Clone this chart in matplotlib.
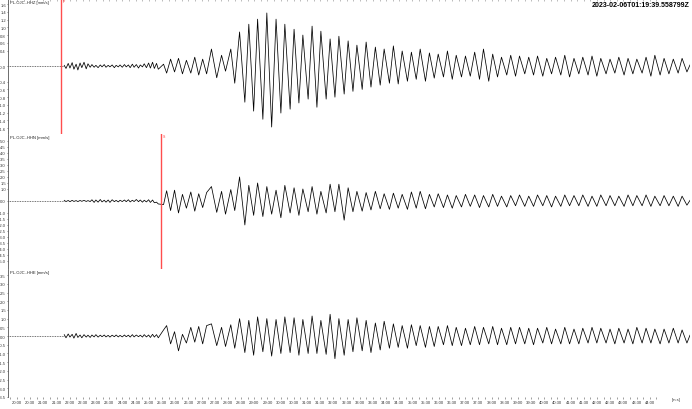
import matplotlib
matplotlib.use("Agg")
import matplotlib.pyplot as plt
import numpy as np
from matplotlib.ticker import FixedLocator, FuncFormatter

plt.rcParams["font.family"] = ["Liberation Sans", "DejaVu Sans"]

# time axis: seconds after the start time 01:19:39.558799
start_label = "2023-02-06T01:19:39.558799Z"
start_sec = 19 * 60 + 39.558799          # seconds into the hour
channels = ["PL.OJC..HHZ [mm/s]", "PL.OJC..HHN [mm/s]", "PL.OJC..HHE [mm/s]"]

# quiet part before the arrivals (same sampling for the three channels)
t_noise = [128, 132, 137, 141, 146, 150, 155, 159, 164, 168, 173, 178, 182, 187,
           191, 196, 200, 205, 210, 214, 219, 223, 228, 232, 237, 242, 246, 251,
           255, 260, 265, 269, 274, 278, 283, 287, 292, 297, 301, 306, 310, 315,
           320, 324, 329, 333, 338, 342]
hhz_noise = [0.02, -0.06, 0.07, -0.05, 0.09, -0.08, 0.05, -0.10, 0.08, -0.04, 0.10, -0.07, 0.06, -0.03,
             0.04, -0.03, 0.02, -0.04, 0.03, -0.02, 0.04, -0.03, 0.02, -0.02, 0.03, -0.04, 0.02, -0.02,
             0.03, -0.03, 0.04, -0.02, 0.03, -0.04, 0.05, -0.03, 0.04, -0.05, 0.03, -0.02, 0.06, -0.04,
             0.08, -0.05, 0.10, -0.06, 0.07, -0.08]
hhn_noise = [0.05, -0.05, 0.04, -0.06, 0.05, -0.04, 0.03, -0.05, 0.04, -0.03, 0.05, -0.04, 0.03, -0.05,
             0.10, -0.12, 0.08, -0.10, 0.12, -0.08, 0.06, -0.10, 0.08, -0.12, 0.10, -0.06, 0.05, -0.08,
             0.06, -0.05, 0.08, -0.06, 0.10, -0.08, 0.06, -0.05, 0.12, -0.06, 0.08, -0.10, 0.06, -0.08,
             0.10, -0.12, 0.08, -0.15, -0.10, -0.25]
hhe_noise = [0.08, -0.10, 0.12, -0.06, 0.10, -0.12, 0.15, -0.08, 0.06, -0.10, 0.08, -0.06, 0.05, -0.08,
             0.06, -0.05, 0.08, -0.06, 0.05, -0.04, 0.06, -0.05, 0.04, -0.06, 0.05, -0.04, 0.06, -0.05,
             0.04, -0.05, 0.06, -0.04, 0.05, -0.06, 0.08, -0.05, 0.06, -0.04, 0.05, -0.06, 0.08, -0.05,
             0.06, -0.08, 0.10, -0.06, 0.08, -0.10]

# peaks and troughs after the arrivals
t_osc = [354, 361, 370, 379, 388, 397, 406, 416, 425, 434, 443, 452,
         463, 475, 486, 495, 507, 516, 527, 539, 548, 559,
         568, 580, 589, 600, 610, 621, 630, 642, 651, 662,
         671, 683, 692, 703, 712, 724, 733, 744, 753, 765,
         774, 785, 794, 806, 815, 826, 836, 847, 856, 868,
         877, 888, 897, 909, 918, 929, 938, 950, 959, 970,
         979, 991, 1000, 1011, 1020, 1032, 1041, 1052, 1062, 1073,
         1082, 1094, 1103, 1114, 1123, 1135, 1144, 1155, 1164, 1176,
         1185, 1196, 1205, 1217, 1226, 1237, 1246, 1258, 1267, 1278,
         1288, 1299, 1308, 1320, 1329, 1340, 1349, 1361, 1370, 1381,
         1390, 1402, 1411, 1422, 1431, 1443, 1452, 1463, 1472, 1484,
         1493, 1504, 1514, 1525, 1534, 1545, 1552]
hhz_osc = [0.05, -0.18, 0.18, -0.15, 0.20, -0.20, 0.15, -0.18, 0.23, -0.23, 0.18, -0.20,
           0.44, -0.30, 0.28, -0.13, 0.44, -0.44, 0.88, -0.93, 1.08, -1.16,
           1.21, -1.37, 1.37, -1.57, 1.21, -1.21, 1.08, -1.11, 0.95, -0.95,
           0.80, -0.85, 1.03, -1.06, 0.90, -0.85, 0.70, -0.80, 0.77, -0.72,
           0.65, -0.65, 0.54, -0.60, 0.62, -0.54, 0.49, -0.49, 0.44, -0.44,
           0.52, -0.46, 0.39, -0.39, 0.36, -0.34, 0.44, -0.39, 0.34, -0.31,
           0.31, -0.28, 0.39, -0.34, 0.28, -0.28, 0.26, -0.26, 0.36, -0.34,
           0.44, -0.39, 0.31, -0.28, 0.23, -0.23, 0.28, -0.26, 0.26, -0.20,
           0.23, -0.23, 0.26, -0.26, 0.20, -0.20, 0.23, -0.23, 0.28, -0.28,
           0.20, -0.20, 0.23, -0.23, 0.26, -0.26, 0.20, -0.20, 0.18, -0.18,
           0.23, -0.23, 0.20, -0.20, 0.18, -0.18, 0.23, -0.26, 0.28, -0.23,
           0.20, -0.20, 0.18, -0.18, 0.20, -0.15, 0.03]
hhn_osc = [-0.30, 0.85, -0.80, 0.90, -1.00, 0.55, -0.60, 0.75, -0.85, 0.60, -0.55, 0.70,
           1.20, -0.95, 0.80, -1.10, 0.95, -0.80, 2.00, -2.00, 1.30, -1.20,
           1.50, -1.30, 1.20, -1.10, 0.90, -1.40, 1.30, -1.00, 1.10, -1.20,
           1.00, -0.90, 1.20, -1.10, 0.80, -1.00, 1.40, -0.90, 1.40, -1.60,
           1.10, -0.90, 0.80, -0.85, 0.70, -0.75, 0.80, -0.65, 0.60, -0.70,
           0.65, -0.60, 0.55, -0.70, 0.75, -0.60, 0.80, -0.65, 0.55, -0.50,
           0.60, -0.55, 0.50, -0.60, 0.45, -0.50, 0.55, -0.45, 0.50, -0.55,
           0.45, -0.50, 0.55, -0.45, 0.40, -0.50, 0.45, -0.40, 0.50, -0.45,
           0.40, -0.45, 0.50, -0.40, 0.45, -0.50, 0.40, -0.45, 0.50, -0.40,
           0.45, -0.40, 0.50, -0.45, 0.40, -0.45, 0.50, -0.40, 0.45, -0.40,
           0.40, -0.45, 0.50, -0.40, 0.45, -0.40, 0.50, -0.45, 0.40, -0.40,
           0.45, -0.40, 0.40, -0.45, 0.40, -0.35, 0.05]
hhe_osc = [0.35, 0.60, -0.45, 0.25, -0.85, 0.10, -0.40, 0.50, -0.35, 0.55, -0.45, 0.60,
           0.70, -0.55, 0.50, -0.60, 0.65, -0.70, 1.00, -0.95, 0.90, -1.10,
           1.10, -0.90, 1.00, -1.15, 0.95, -1.00, 1.10, -0.95, 1.05, -1.10,
           0.95, -1.00, 1.15, -1.00, 0.90, -1.05, 1.25, -1.30, 1.00, -1.10,
           0.95, -0.90, 1.05, -0.85, 0.90, -0.95, 0.75, -0.80, 0.85, -0.70,
           0.70, -0.65, 0.60, -0.70, 0.65, -0.55, 0.60, -0.65, 0.55, -0.60,
           0.55, -0.50, 0.60, -0.55, 0.50, -0.55, 0.45, -0.50, 0.55, -0.50,
           0.50, -0.45, 0.55, -0.50, 0.45, -0.50, 0.50, -0.45, 0.50, -0.45,
           0.45, -0.50, 0.45, -0.40, 0.50, -0.45, 0.40, -0.45, 0.50, -0.45,
           0.40, -0.45, 0.45, -0.40, 0.50, -0.40, 0.45, -0.40, 0.40, -0.45,
           0.45, -0.40, 0.40, -0.45, 0.50, -0.40, 0.45, -0.40, 0.40, -0.45,
           0.40, -0.40, 0.45, -0.40, 0.35, -0.40, 0.05]

traces = [hhz_noise + hhz_osc, hhn_noise + hhn_osc, hhe_noise + hhe_osc]
t_all = t_noise + t_osc
for tr in traces:
    assert len(tr) == len(t_all)

# picks (panel index, time, name)
picks = [(0, 121, "P"), (1, 349, "S")]

ylims = [(-1.75, 1.73), (-5.67, 5.58), (-3.5, 3.85)]
yticks = [[v for v in np.round(np.arange(-1.6, 1.61, 0.2), 1) if abs(v) != 0.2],
          [v for v in np.round(np.arange(-5.0, 5.01, 0.5), 1) if abs(v) != 0.5],
          list(np.round(np.arange(-3.5, 3.51, 0.5), 1))]

W, H = 692, 410
fig = plt.figure(figsize=(W / 100, H / 100), dpi=100)
left = 8 / W
width = (690 - 8) / W
boxes = [(0, 135), (135, 270), (270, 398)]
axes = []
for top, bot in boxes:
    ax = fig.add_axes([left, 1 - bot / H, width, (bot - top) / H])
    axes.append(ax)

x0, x1 = 0, 1552
t_first = 20 * 60 - start_sec


def mmss(t, pos=None):
    s = int(round(start_sec + t))
    return f"{s // 60:02d}:{s % 60:02d}"


major = [t_first + 30 * k for k in range(49)]
for i, ax in enumerate(axes):
    ax.plot(t_all, traces[i], color="black", lw=0.55)
    ax.hlines(0, x0, t_all[0], color="#444444", lw=0.6, linestyles=(0, (1, 1)))
    ax.set_xlim(x0, x1)
    ax.set_ylim(*ylims[i])
    for s in ["top", "right", "bottom"]:
        ax.spines[s].set_visible(False)
    ax.spines["left"].set_color("#555555")
    ax.spines["left"].set_linewidth(0.6)
    ax.yaxis.set_major_locator(FixedLocator(yticks[i]))
    ax.yaxis.set_major_formatter(FuncFormatter(lambda v, p: f"{v:.1f}"))
    ax.tick_params(axis="y", labelsize=3, length=1, width=0.4, pad=0.5,
                   colors="#333333")
    ax.text(0.003, 0.99, channels[i], transform=ax.transAxes, fontsize=3,
            va="top", ha="left", color="#222222")
    ax.xaxis.set_major_locator(FixedLocator(major))
    ax.xaxis.set_minor_locator(FixedLocator([m + 15 for m in major] + [t_first - 15]))
    if i == 2:
        ax.xaxis.set_major_formatter(FuncFormatter(mmss))
        ax.tick_params(axis="x", which="both", labelsize=3, length=1.2, width=0.4,
                       pad=1, colors="#555555", labelcolor="#333333")
    elif i == 0:
        ax.xaxis.tick_top()
        ax.tick_params(axis="x", which="both", labeltop=False, length=1.2,
                       width=0.4, colors="#888888", direction="in")
    else:
        ax.tick_params(axis="x", which="both", bottom=False, labelbottom=False)

for i, tp, name in picks:
    ax = axes[i]
    ax.axvline(tp, color="#ff4d4d", lw=1.0)
    ax.text(tp + 3, ylims[i][1], name, color="#ff3333", fontsize=2.5,
            va="top", ha="left")

axes[2].text(t_first + 30 * 50, ylims[2][0], "[m:s]", fontsize=3, ha="center",
             va="top", color="#333333")

fig.text(0.997, 0.994, start_label, ha="right", va="top", fontsize=5,
         fontweight="bold")

fig.savefig("out.png", dpi=100)
